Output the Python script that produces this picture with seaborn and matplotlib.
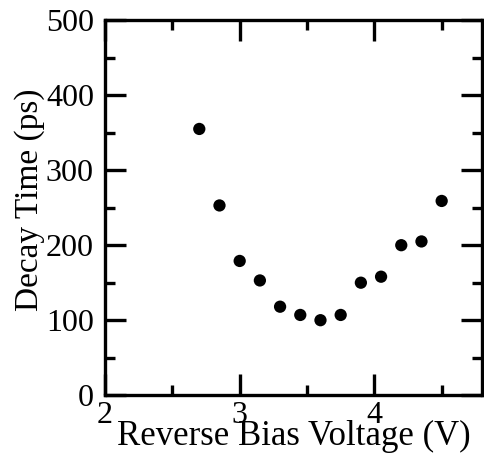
import numpy as np
import pandas as pd
import matplotlib
matplotlib.use('Agg')
import matplotlib.pyplot as plt
import seaborn as sns
from matplotlib.ticker import MultipleLocator

# data
voltage = [2.7, 2.85, 3.0, 3.15, 3.3, 3.45, 3.6, 3.75, 3.9, 4.05, 4.2, 4.35, 4.5]
decay_time = [355, 253, 179, 153, 118, 107, 100, 107, 150, 158, 200, 205, 259]

df = pd.DataFrame({'Voltage': voltage, 'Decay': decay_time})

sns.set_style('ticks')
plt.rcParams['font.family'] = ['Liberation Serif', 'DejaVu Serif']
plt.rcParams['font.size'] = 23
plt.rcParams['text.color'] = 'black'
plt.rcParams['axes.labelcolor'] = 'black'
plt.rcParams['xtick.color'] = 'black'
plt.rcParams['ytick.color'] = 'black'

fig = plt.figure(figsize=(4.84, 4.59), dpi=100)
ax = fig.add_axes([0.217, 0.139, 0.779, 0.817])

sns.scatterplot(data=df, x='Voltage', y='Decay', ax=ax, color='black',
                s=78, edgecolor='none', legend=False)

ax.set_xlim(2, 4.8)
ax.set_ylim(0, 500)
ax.xaxis.set_major_locator(MultipleLocator(1))
ax.xaxis.set_minor_locator(MultipleLocator(0.5))
ax.yaxis.set_major_locator(MultipleLocator(100))
ax.yaxis.set_minor_locator(MultipleLocator(50))

for s in ax.spines.values():
    s.set_linewidth(2.4)
    s.set_color('black')

ax.tick_params(which='both', direction='in', top=True, right=True, width=2.4,
               color='black', labelcolor='black')
ax.tick_params(which='major', length=15)
ax.tick_params(which='minor', length=7.5)
ax.tick_params(axis='x', which='major', pad=4, labelsize=23)
ax.tick_params(axis='y', which='major', pad=8, labelsize=23)

ax.set_xlabel('Reverse Bias Voltage (V)', fontsize=25)
ax.set_ylabel('Decay Time (ps)', fontsize=24)
ax.xaxis.set_label_coords(0.5, -0.066)
ax.yaxis.set_label_coords(-0.16, 0.52)

fig.savefig('out.png', dpi=100)
